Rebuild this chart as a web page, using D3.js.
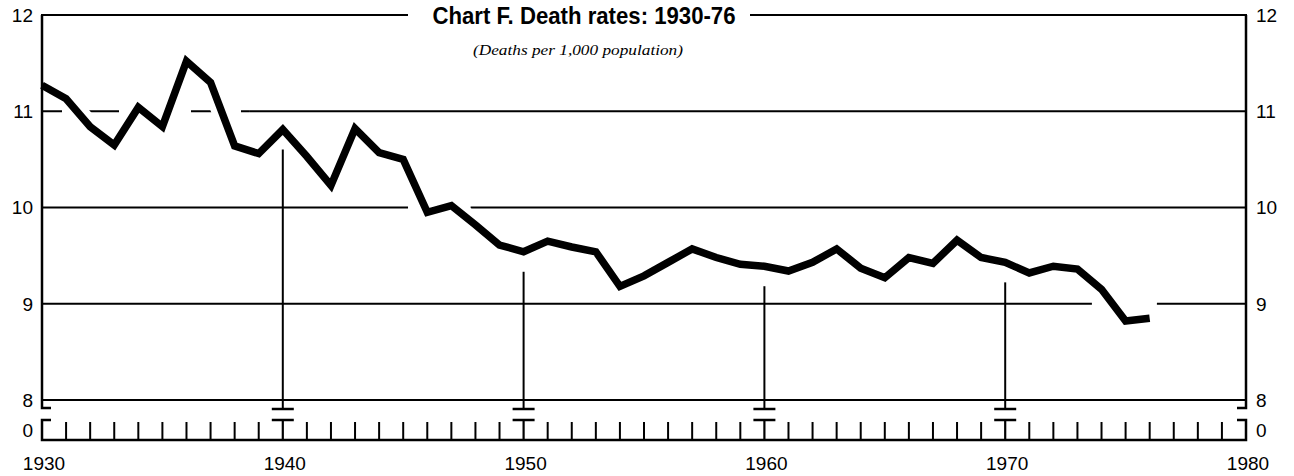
<!DOCTYPE html>
<html>
<head>
<meta charset="utf-8">
<script src="https://cdn.jsdelivr.net/npm/d3@7"></script>
<style>
html,body{margin:0;padding:0;background:#fff;}
svg{display:block;}
</style>
</head>
<body>
<svg id="chart" width="1294" height="476"></svg>
<script>
// ---- data ----
const years = [1930,1931,1932,1933,1934,1935,1936,1937,1938,1939,
               1940,1941,1942,1943,1944,1945,1946,1947,1948,1949,
               1950,1951,1952,1953,1954,1955,1956,1957,1958,1959,
               1960,1961,1962,1963,1964,1965,1966,1967,1968,1969,
               1970,1971,1972,1973,1974,1975,1976];
const deathRates = [11.27,11.13,10.84,10.65,11.04,10.84,11.52,11.30,10.64,10.56,
                    10.81,10.53,10.23,10.82,10.57,10.50,9.95,10.02,9.82,9.61,
                    9.54,9.65,9.59,9.54,9.18,9.29,9.43,9.57,9.48,9.41,
                    9.39,9.34,9.43,9.57,9.37,9.27,9.48,9.42,9.66,9.48,
                    9.43,9.32,9.39,9.36,9.15,8.82,8.85];
const decadeYears = [1940,1950,1960,1970];
const xTickLabels = [1930,1940,1950,1960,1970,1980];
const yTickLabels = [8,9,10,11,12];
const gridValues = [9,10,11];
const gridGapYears = {10: [1945.2, 1947.8], 9: [1973.6, 1976.3]};
const minorTickYears = [1931,1932,1933,1934,1935,1936,1937,1938,1939,1940,
                        1941,1942,1943,1944,1945,1946,1947,1948,1949,1950,
                        1951,1952,1953,1954,1955,1956,1957,1958,1959,1960,
                        1961,1962,1963,1964,1965,1966,1967,1968,1969,1970,
                        1971,1972,1973,1974,1975,1976,1977,1978,1979];
const titleText = "Chart F. Death rates: 1930-76";
const subtitleText = "(Deaths per 1,000 population)";

// ---- layout ----
const svg = d3.select("#chart");
const x = d3.scaleLinear().domain([1930,1980]).range([42,1246]);
const y = d3.scaleLinear().domain([8,12]).range([400,15]);
const breakY = 409, zeroTop = 420, zeroBase = 440;
const x0 = x(1930), x1 = x(1980);
const labelFont = "'Liberation Sans', Arial, Helvetica, sans-serif";

// gridlines
const g = svg.append("g");
function hline(xa, xb, yy, dash) {
  const l = g.append("line").attr("x1", xa).attr("x2", xb).attr("y1", yy).attr("y2", yy)
    .attr("stroke","#000").attr("stroke-width",2);
  if (dash) l.attr("stroke-dasharray", dash);
}
gridValues.forEach(v => {
  if (v === 11) {
    hline(x0, x(1938.6), y(v), "20,15,42,16,34,22,30,20,60,12");
    hline(x(1938.6), x1, y(v));
  } else if (gridGapYears[v]) {
    hline(x0, x(gridGapYears[v][0]), y(v));
    hline(x(gridGapYears[v][1]), x1, y(v));
  } else {
    hline(x0, x1, y(v));
  }
});
// 8 line (bottom of upper panel)
g.append("line").attr("x1", x0).attr("x2", x1).attr("y1", y(8)).attr("y2", y(8))
  .attr("stroke","#000").attr("stroke-width",2.2);

// decade verticals
const rateOf = yr => deathRates[years.indexOf(yr)];
decadeYears.forEach(yr => {
  const xx = x(yr);
  g.append("line").attr("x1", xx).attr("x2", xx).attr("y1", y(rateOf(yr)) + 20).attr("y2", breakY)
    .attr("stroke","#000").attr("stroke-width",2);
  g.append("line").attr("x1", xx-11).attr("x2", xx+11).attr("y1", breakY).attr("y2", breakY)
    .attr("stroke","#000").attr("stroke-width",2.5);
  g.append("line").attr("x1", xx-11).attr("x2", xx+11).attr("y1", zeroTop).attr("y2", zeroTop)
    .attr("stroke","#000").attr("stroke-width",2.5);
  g.append("line").attr("x1", xx).attr("x2", xx).attr("y1", zeroTop).attr("y2", zeroBase)
    .attr("stroke","#000").attr("stroke-width",2.2);
});

// data line with white halo
const line = d3.line().x((d,i) => x(years[i])).y(d => y(d));
svg.append("path").datum(deathRates).attr("d", line)
  .attr("fill","none").attr("stroke","#fff").attr("stroke-width",20)
  .attr("stroke-linejoin","round").attr("stroke-linecap","square");
svg.append("path").datum(deathRates).attr("d", line)
  .attr("fill","none").attr("stroke","#000").attr("stroke-width",7.5)
  .attr("stroke-linejoin","miter").attr("stroke-linecap","butt");

// frame: top border with gap for title
const ax = svg.append("g").attr("stroke","#000").attr("fill","none");
ax.append("line").attr("x1", x0-1).attr("x2", 408).attr("y1", y(12)).attr("y2", y(12)).attr("stroke-width",2.2);
ax.append("line").attr("x1", 750).attr("x2", x1+1).attr("y1", y(12)).attr("y2", y(12)).attr("stroke-width",2.2);
// left & right axes upper panel with hooks
ax.append("path").attr("d", `M${x0+9},${breakY-1}H${x0}V${y(12)}`).attr("stroke-width",2.5);
ax.append("path").attr("d", `M${x1-9},${breakY-1}H${x1}V${y(12)}`).attr("stroke-width",2.5);
// lower (zero) panel
ax.append("path").attr("d", `M${x0+9},${zeroTop}H${x0}V${zeroBase}H${x1}V${zeroTop}H${x1-9}`).attr("stroke-width",2.5);
// year ticks
minorTickYears.forEach(yr => {
  if (decadeYears.includes(yr)) return;
  ax.append("line").attr("x1", x(yr)).attr("x2", x(yr)).attr("y1", zeroTop+2).attr("y2", zeroBase)
    .attr("stroke-width",2);
});

// labels
const lab = svg.append("g").attr("font-family", labelFont).attr("font-size", 19).attr("fill","#000");
yTickLabels.forEach(v => {
  lab.append("text").attr("x", 33).attr("y", y(v)).attr("dy","0.36em").attr("text-anchor","end").text(v);
  lab.append("text").attr("x", 1256).attr("y", y(v)).attr("dy","0.36em").attr("text-anchor","start").text(v);
});
lab.append("text").attr("x", 33).attr("y", 430).attr("dy","0.36em").attr("text-anchor","end").text(0);
lab.append("text").attr("x", 1256).attr("y", 430).attr("dy","0.36em").attr("text-anchor","start").text(0);
xTickLabels.forEach(yr => {
  lab.append("text").attr("x", x(yr)+2).attr("y", 470).attr("text-anchor","middle").text(yr);
});

// title
svg.append("text").attr("x", 584).attr("y", 24).attr("text-anchor","middle")
  .attr("font-family","'Liberation Sans Narrow', 'Liberation Sans', Arial, sans-serif")
  .attr("font-weight","bold").attr("font-size", 24)
  .attr("textLength", 303).attr("lengthAdjust","spacingAndGlyphs")
  .text(titleText);
svg.append("text").attr("x", 578).attr("y", 55).attr("text-anchor","middle")
  .attr("font-family","'Liberation Serif', 'DejaVu Serif', serif")
  .attr("font-style","italic").attr("font-size", 15.5)
  .attr("textLength", 210).attr("lengthAdjust","spacingAndGlyphs")
  .text(subtitleText);
</script>
</body>
</html>
